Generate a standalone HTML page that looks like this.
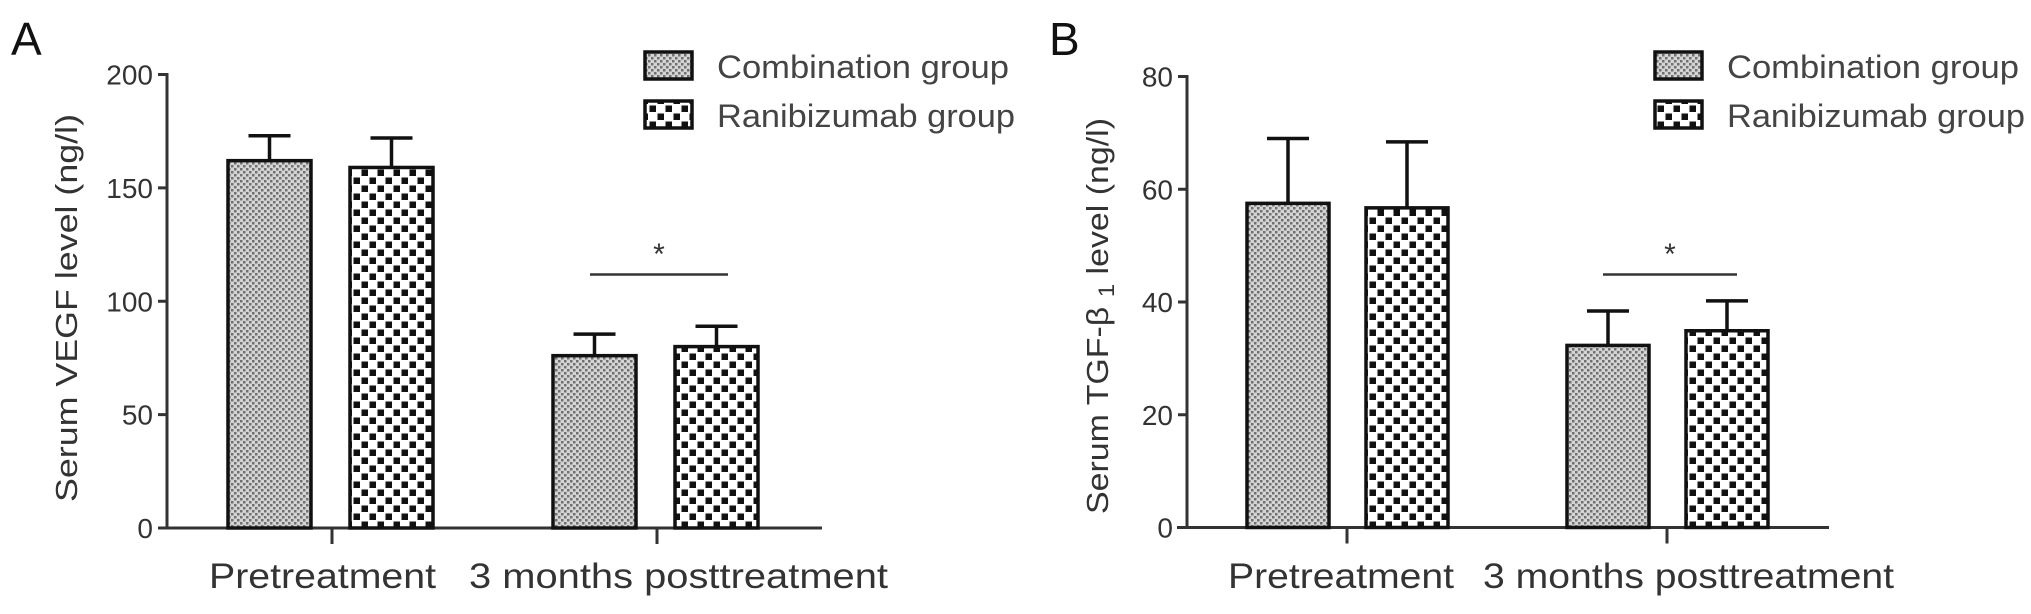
<!DOCTYPE html>
<html><head><meta charset="utf-8"><style>
html,body{margin:0;padding:0;background:#fff;}
svg{display:block;font-family:"Liberation Sans",Arial,sans-serif;}
</style></head><body>
<svg id="chart" width="2031" height="614" viewBox="0 0 2031 614" xmlns="http://www.w3.org/2000/svg">
<defs>
<pattern id="pComb" width="6" height="6" patternUnits="userSpaceOnUse">
<rect width="6" height="6" fill="#d4d4d4"/>
<rect x="0" y="0" width="2.5" height="2.5" fill="#707070"/>
<rect x="3" y="3" width="2.5" height="2.5" fill="#707070"/>
</pattern>
<pattern id="pRani" width="16" height="16" patternUnits="userSpaceOnUse">
<rect width="16" height="16" fill="#fff"/>
<rect x="1.5" y="1.5" width="6.5" height="6.5" fill="#111"/>
<rect x="9.5" y="9.5" width="6.5" height="6.5" fill="#111"/>
</pattern>
</defs>
<g id="panelA"></g>
<g id="panelB"></g>
</svg>
<script>
const categories = ["Pretreatment", "3 months posttreatment"];
const seriesNames = ["Combination group", "Ranibizumab group"];
const vegfMeans = [[162, 76], [159, 80]];
const vegfErr = [[11, 9.5], [13, 9]];
const vegfTicks = [0, 50, 100, 150, 200];
const tgfMeans = [[57.5, 32.3], [56.7, 34.9]];
const tgfErr = [[11.5, 6.1], [11.7, 5.3]];
const tgfTicks = [0, 20, 40, 60, 80];

const NS = "http://www.w3.org/2000/svg";
function mk(parent, tag, attrs, text) {
  const e = document.createElementNS(NS, tag);
  for (const k in attrs) e.setAttribute(k, attrs[k]);
  if (text !== undefined) e.textContent = text;
  parent.appendChild(e);
  return e;
}

function drawPanel(g, cfg, means, errs, ticks) {
  const y = v => cfg.y0 - (v - ticks[0]) / (ticks[ticks.length - 1] - ticks[0]) * (cfg.y0 - cfg.yTop);
  const L = mk(g, "text", {x: cfg.letterX, y: 55, "font-size": 46, fill: "#111"}, cfg.letter);
  
  
  const ya = mk(g, "line", {x1: cfg.axX, y1: y(ticks[ticks.length-1]) - 1.5, x2: cfg.axX, y2: cfg.y0, stroke: "#333", "stroke-width": 3});
  
  
  ticks.forEach(t => {
    const tl = mk(g, "line", {x1: cfg.axX - 9, y1: y(t), x2: cfg.axX, y2: y(t), stroke: "#333", "stroke-width": 3});
    
    
    const tx = mk(g, "text", {x: cfg.axX - 14, y: y(t) + 10, "font-size": 28, fill: "#333", "text-anchor": "end"}, String(t));
    
    
  });
  const xa = mk(g, "line", {x1: cfg.xStart, y1: cfg.y0, x2: cfg.xEnd, y2: cfg.y0, stroke: "#333", "stroke-width": 3});
  
  
  categories.forEach((c, i) => {
    const cx = cfg.catX[i];
    const tk = mk(g, "line", {x1: cx, y1: cfg.y0, x2: cx, y2: cfg.y0 + 16, stroke: "#333", "stroke-width": 3});
    
    
    const lb = mk(g, "text", {x: cfg.labelX[i], y: 588, "font-size": 35, fill: "#333", textLength: cfg.labelW[i], lengthAdjust: "spacingAndGlyphs"}, c);
    
    
    for (let s = 0; s < 2; s++) {
      const bx = cx + cfg.barOff[s];
      const v = means[s][i], e = errs[s][i];
      const el = mk(g, "line", {x1: bx + cfg.bw/2, y1: y(v), x2: bx + cfg.bw/2, y2: y(v + e), stroke: "#111", "stroke-width": 3.5});
      
      
      const cap = mk(g, "line", {x1: bx + cfg.bw/2 - 21, y1: y(v + e), x2: bx + cfg.bw/2 + 21, y2: y(v + e), stroke: "#111", "stroke-width": 3.5});
      
      
      const r = mk(g, "rect", {x: bx, y: y(v), width: cfg.bw, height: cfg.y0 - y(v), fill: s === 0 ? "url(#pComb)" : "url(#pRani)", stroke: "#111", "stroke-width": 3.5});
      
      
    }
  });
  const sl = mk(g, "line", {x1: cfg.sig[0], y1: 274.5, x2: cfg.sig[1], y2: 274.5, stroke: "#333", "stroke-width": 2.5});
  
  
  const st = mk(g, "text", {x: (cfg.sig[0] + cfg.sig[1]) / 2, y: 264, "font-size": 30, fill: "#333", "text-anchor": "middle"}, "*");
  
  
  const yt = mk(g, "text", {x: 0, y: 0, "font-size": 31, fill: "#333", "text-anchor": "middle", transform: `translate(${cfg.titleX},${cfg.titleY}) rotate(-90)`, textLength: cfg.titleW, lengthAdjust: "spacingAndGlyphs"});
  
  
  if (cfg.tgf) {
    yt.appendChild(document.createTextNode("Serum TGF-β "));
    mk(yt, "tspan", {"font-size": 22, dy: 6}, "1");
    mk(yt, "tspan", {dy: -6}, " level (ng/l)");
  } else {
    yt.textContent = "Serum VEGF level (ng/l)";
  }
  seriesNames.forEach((n, s) => {
    const ly = 52 + s * 49;
    const lr = mk(g, "rect", {x: cfg.legX, y: ly, width: 47, height: 27, fill: s === 0 ? "url(#pComb)" : "url(#pRani)", stroke: "#111", "stroke-width": 3.5});
    
    
    const lt = mk(g, "text", {x: cfg.legX + 72, y: ly + 26, "font-size": 32, fill: "#444", textLength: s === 0 ? 292 : 298, lengthAdjust: "spacingAndGlyphs"}, n);
    
    
  });
}

drawPanel(document.getElementById("panelA"), {
  letter: "A", letterX: 11, axX: 167, y0: 528, yTop: 74.5, xStart: 159, xEnd: 822,
  catX: [332, 657], barOff: [-104, 18], bw: 83, labelX: [209, 469], labelW: [227, 419],
  sig: [590, 728], titleX: 77, titleY: 308, titleW: 388, legX: 645, tgf: false
}, vegfMeans, vegfErr, vegfTicks);

drawPanel(document.getElementById("panelB"), {
  letter: "B", letterX: 1049, axX: 1187, y0: 527.5, yTop: 76.5, xStart: 1177, xEnd: 1829,
  catX: [1347, 1667], barOff: [-100, 19], bw: 82, labelX: [1228, 1483], labelW: [226, 411],
  sig: [1603, 1737], titleX: 1108, titleY: 316, titleW: 396, legX: 1655, tgf: true
}, tgfMeans, tgfErr, tgfTicks);
</script>
</body></html>
